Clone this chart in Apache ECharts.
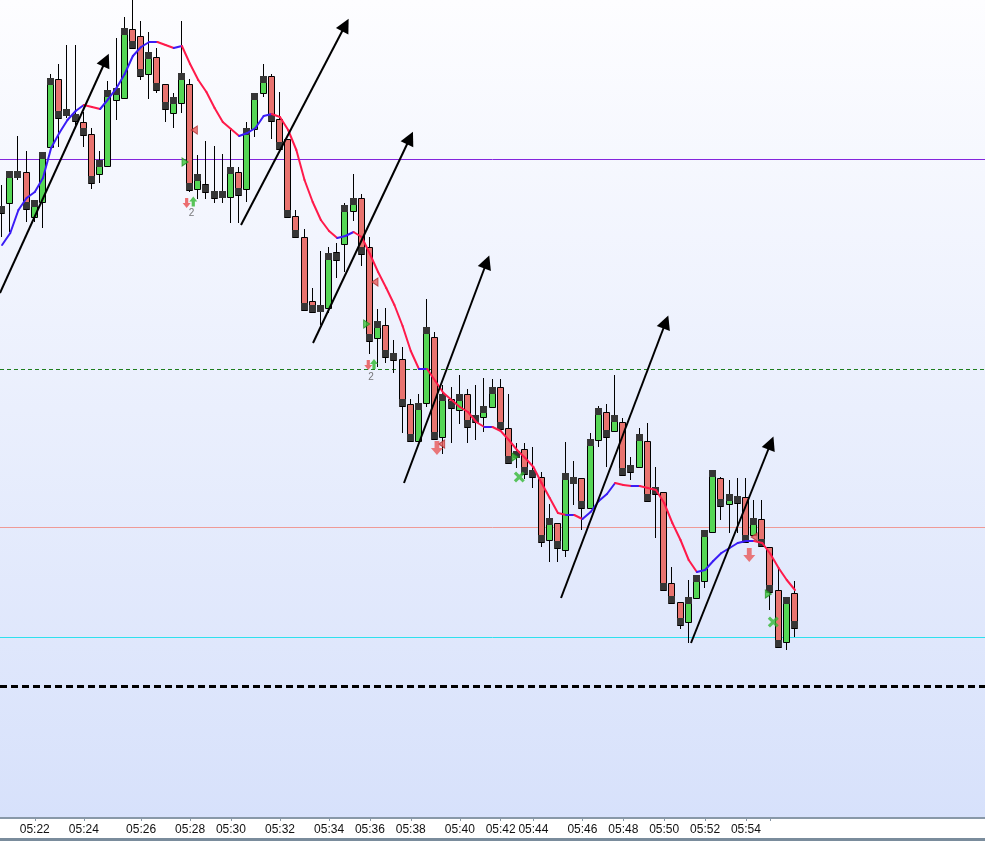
<!DOCTYPE html>
<html><head><meta charset="utf-8">
<script src="https://cdn.jsdelivr.net/npm/echarts@6/dist/echarts.min.js"></script>
<style>html,body{margin:0;padding:0;background:#fff}#c{width:985px;height:841px}</style>
</head><body><div id="c"></div>
<script>
// time axis labels (bar index -> label)
const labelIdx = [4,10,17,23,28,34,40,45,50,56,61,65,71,76,81,86,91];
const labelText = ['05:22','05:24','05:26','05:28','05:30','05:32','05:34','05:36','05:38','05:40','05:42','05:44','05:46','05:48','05:50','05:52','05:54'];
const tickIdx = [4,10,17,23,28,34,40,45,50,56,61,65,71,76,81,86,91,94];

// OHLC per bar
const open = [787,797,829,828,783,798,853,921,888,884, 878,866,826,834,900,902,971,964,926,943, 916,887,897,916,811,816,807,805,803,828, 811,871,907,924,881,861,784,763,699,690, 692,748,756,789,802,753,662,675,646,641, 596,559,597,663,563,601,590,606,583,583, 593,613,572,544,551,529,523,460,477,450, 518,522,492,560,588,569,578,534,533,559, 511,508,417,398,378,402,419,468,522,496, 502,503,465,481,453,410,358,407];
const high = [815,829,864,849,800,848,926,936,955,955, 888,872,849,919,962,983,1000,979,968,952, 916,907,979,921,845,859,854,846,872,833, 878,907,936,926,908,861,790,771,712,749, 753,757,797,826,806,763,691,692,660,653, 601,606,701,668,615,613,625,611,615,622, 621,621,606,557,557,553,528,496,477,558, 539,522,567,594,596,625,582,543,572,577, 533,508,433,398,420,425,470,530,523,520, 522,522,500,500,453,432,403,419];
const low = [763,768,820,778,778,772,853,853,882,875, 853,811,817,834,880,902,952,920,901,907, 878,872,887,808,801,801,797,797,777,777, 798,863,903,861,851,782,763,690,687,675, 687,722,728,779,734,646,633,637,627,567, 559,559,593,561,546,557,576,557,560,568, 593,571,537,532,521,512,453,438,438,443, 495,470,492,553,533,569,525,520,533,499, 462,410,397,371,357,402,412,468,480,467, 467,458,465,454,390,353,350,363];
const close = [794,829,829,791,800,848,922,882,891,879, 865,817,840,910,912,972,952,924,948,910, 891,903,927,810,826,808,802,809,833,805, 872,907,924,879,851,783,763,690,688,695, 747,740,795,802,746,659,679,643,640,594, 559,597,673,561,606,592,606,573,578,594, 613,571,537,549,526,523,458,482,452,527, 523,492,561,592,563,585,525,528,566,499, 506,410,397,375,403,425,470,530,494,506, 497,458,482,454,408,353,403,372];

// moving average line
const ma = [755,767,790,802,808,822,852,867,880,889, 895,893,891,901,912,926,944,953,958,958, 955,952,954,936,920,908,892,878,871,864, 867,872,884,886,883,870,850,820,798,780, 769,762,764,768,763,746,728,712,695,674, 649,631,631,619,607,600,593,588,578,573, 573,569,560,550,542,533,517,502,487,485, 485,481,488,499,506,517,515,514,514,512, 510,497,477,460,440,428,430,439,447,452, 457,459,459,457,446,432,420,410];

// horizontal levels
const levelValues = [841,631,473,363,314];

// drawn arrows: [fromIdx, fromVal] -> [toIdx, toVal]
const arrowFrom = [[-0.26,707],[29.23,775],[38.04,657],[49.17,517],[68.38,402],[84.28,357]];
const arrowTo = [[12.7,940],[42.0,975],[49.9,862],[59.3,738],[81.2,678],[94.05,557]];

// trade markers
const triRight = [[22.38,838],[44.6,676],[62.75,543],[93.74,406]];
const triLeft = [[23.52,870],[45.62,718],[53.78,556],[92.02,463]];
const downSmall = [[22.58,797],[44.8,635]];
const upSmall = [[23.39,798.5],[45.5,636]];
const countMarks = [[23.17,786.5],[45.13,622.7]];
const countText = ['2','2'];
const downBig = [[53.2,552],[91.41,445]];
const crossMarks = [[63.28,523],[94.35,378]];

const X_MIN = -0.2553, X_MAX = 120.25;

const candleData = open.map((o,i)=>[i,o,close[i],low[i],high[i]]);
const maSeg = [];
for (let i=0;i<ma.length-1;i++) maSeg.push([i,ma[i],i+1,ma[i+1]]);

const GREEN='#55d655', RED='#e8736f', DARK='#363636';

function renderCandle(params, api){
  const x=api.value(0), o=api.value(1), c=api.value(2), l=api.value(3), h=api.value(4);
  const pO=api.coord([x,o]), pC=api.coord([x,c]), pL=api.coord([x,l]), pH=api.coord([x,h]);
  const cx=Math.round(pO[0]);
  const up = c>=o;
  const yTop=Math.round(Math.min(pO[1],pC[1])), yBot=Math.round(Math.max(pO[1],pC[1]));
  const yc=Math.round(pC[1]);
  const blk = up ? [yc, yc+7] : [yc-7, yc];
  return {type:'group', children:[
    {type:'line', shape:{x1:cx-0.5,y1:Math.round(pH[1]),x2:cx-0.5,y2:Math.round(pL[1])}, style:{stroke:'#000',lineWidth:1}},
    {type:'rect', shape:{x:cx-3.5,y:yTop+0.5,width:6,height:Math.max(yBot-yTop,0)}, style:{fill:up?GREEN:RED,stroke:'#000',lineWidth:1}},
    {type:'rect', shape:{x:cx-4,y:blk[0],width:7,height:7}, style:{fill:DARK}}
  ]};
}
function renderMA(params, api){
  const a=api.coord([api.value(0),api.value(1)]);
  const b=api.coord([api.value(2),api.value(3)]);
  const up = api.value(3)>=api.value(1);
  return {type:'line', shape:{x1:a[0],y1:a[1],x2:b[0],y2:b[1]}, style:{stroke:up?'#3a1cf6':'#ff1a4a',lineWidth:2,lineCap:'round'}};
}

const levelStyles = [
  {color:'#8424dc',width:1,type:'solid',opacity:1},
  {color:'#1f7f1f',width:1,type:[4,3],opacity:1},
  {color:'#ef9a96',width:1,type:'solid',opacity:1},
  {color:'#2ee0ee',width:1,type:'solid',opacity:1},
  {color:'#000000',width:3,type:[7,4],opacity:1}
];

const chart = echarts.init(document.getElementById('c'), null, {renderer:'canvas'});
chart.setOption({
  animation:false,
  backgroundColor:'#ffffff',
  grid:{left:0,right:0,top:0,bottom:23,show:true,borderWidth:0,
    backgroundColor:{type:'linear',x:0,y:0,x2:0,y2:1,colorStops:[{offset:0,color:'#fdfdff'},{offset:1,color:'#d7e1fb'}]}},
  xAxis:{type:'value',min:X_MIN,max:X_MAX,
    axisLine:{show:true,lineStyle:{color:'#8898a8',width:2}},
    axisTick:{show:true,customValues:tickIdx,length:3,inside:false,lineStyle:{color:'#8898a8'}},
    axisLabel:{show:true,customValues:labelIdx,margin:6,color:'#111',fontSize:12,fontFamily:'Liberation Sans Narrow, Liberation Sans, sans-serif',
      formatter:v=>{const k=labelIdx.indexOf(Math.round(v));return k>=0?labelText[k]:'';}},
    splitLine:{show:false}},
  yAxis:{type:'value',min:182,max:1000,show:false,splitLine:{show:false}},
  graphic:[{type:'rect',shape:{x:0,y:838,width:985,height:3},style:{fill:'#7a8c9c'},z:100}],
  series:[
    {type:'lines',coordinateSystem:'cartesian2d',z:1,silent:true,symbol:'none',lineStyle:{opacity:1},
      data:levelValues.map((v,i)=>({coords:[[X_MIN,v],[X_MAX,v]],lineStyle:levelStyles[i]}))},
    {type:'custom',z:2,clip:true,renderItem:renderCandle,encode:{x:0,y:[1,2,3,4]},data:candleData},
    {type:'custom',z:3,clip:true,renderItem:renderMA,encode:{x:[0,2],y:[1,3]},data:maSeg},
    {type:'scatter',z:4,symbol:'path://M0,0 L8,5 L0,10 Z',symbolSize:[6,8],itemStyle:{color:'#3cc43c',borderColor:'#1e8e1e',borderWidth:1},data:triRight},
    {type:'scatter',z:4,symbol:'path://M8,0 L0,5 L8,10 Z',symbolSize:[6,8],itemStyle:{color:'#e85a5a',borderColor:'#b03030',borderWidth:1},data:triLeft},
    {type:'scatter',z:4,symbol:'path://M3,0 H7 V6 H10 L5,12 L0,6 H3 Z',symbolSize:[8,10],itemStyle:{color:'#e84c4c'},data:downSmall},
    {type:'scatter',z:4,symbol:'path://M3,12 H7 V6 H10 L5,0 L0,6 H3 Z',symbolSize:[8,10],itemStyle:{color:'#2fb82f'},data:upSmall},
    {type:'scatter',z:4,symbol:'path://M3,0 H7 V6 H10 L5,12 L0,6 H3 Z',symbolSize:[12,14],itemStyle:{color:'#e85858'},data:downBig},
    {type:'scatter',z:4,symbol:'path://M2,0 L5,3 L8,0 L10,2 L7,5 L10,8 L8,10 L5,7 L2,10 L0,8 L3,5 L0,2 Z',symbolSize:11,itemStyle:{color:'#35b835'},data:crossMarks},
    {type:'scatter',z:4,symbolSize:1,itemStyle:{color:'rgba(0,0,0,0)'},
      label:{show:true,position:'inside',formatter:p=>countText[p.dataIndex],color:'#555',fontSize:10,fontFamily:'Liberation Sans, sans-serif'},data:countMarks},
    {type:'lines',coordinateSystem:'cartesian2d',z:5,silent:true,symbol:['none','triangle'],symbolSize:[11,14],
      lineStyle:{color:'#000',width:2,opacity:1},itemStyle:{color:'#000'},
      data:arrowFrom.map((f,i)=>({coords:[f,arrowTo[i]]}))}
  ]
});
</script></body></html>
